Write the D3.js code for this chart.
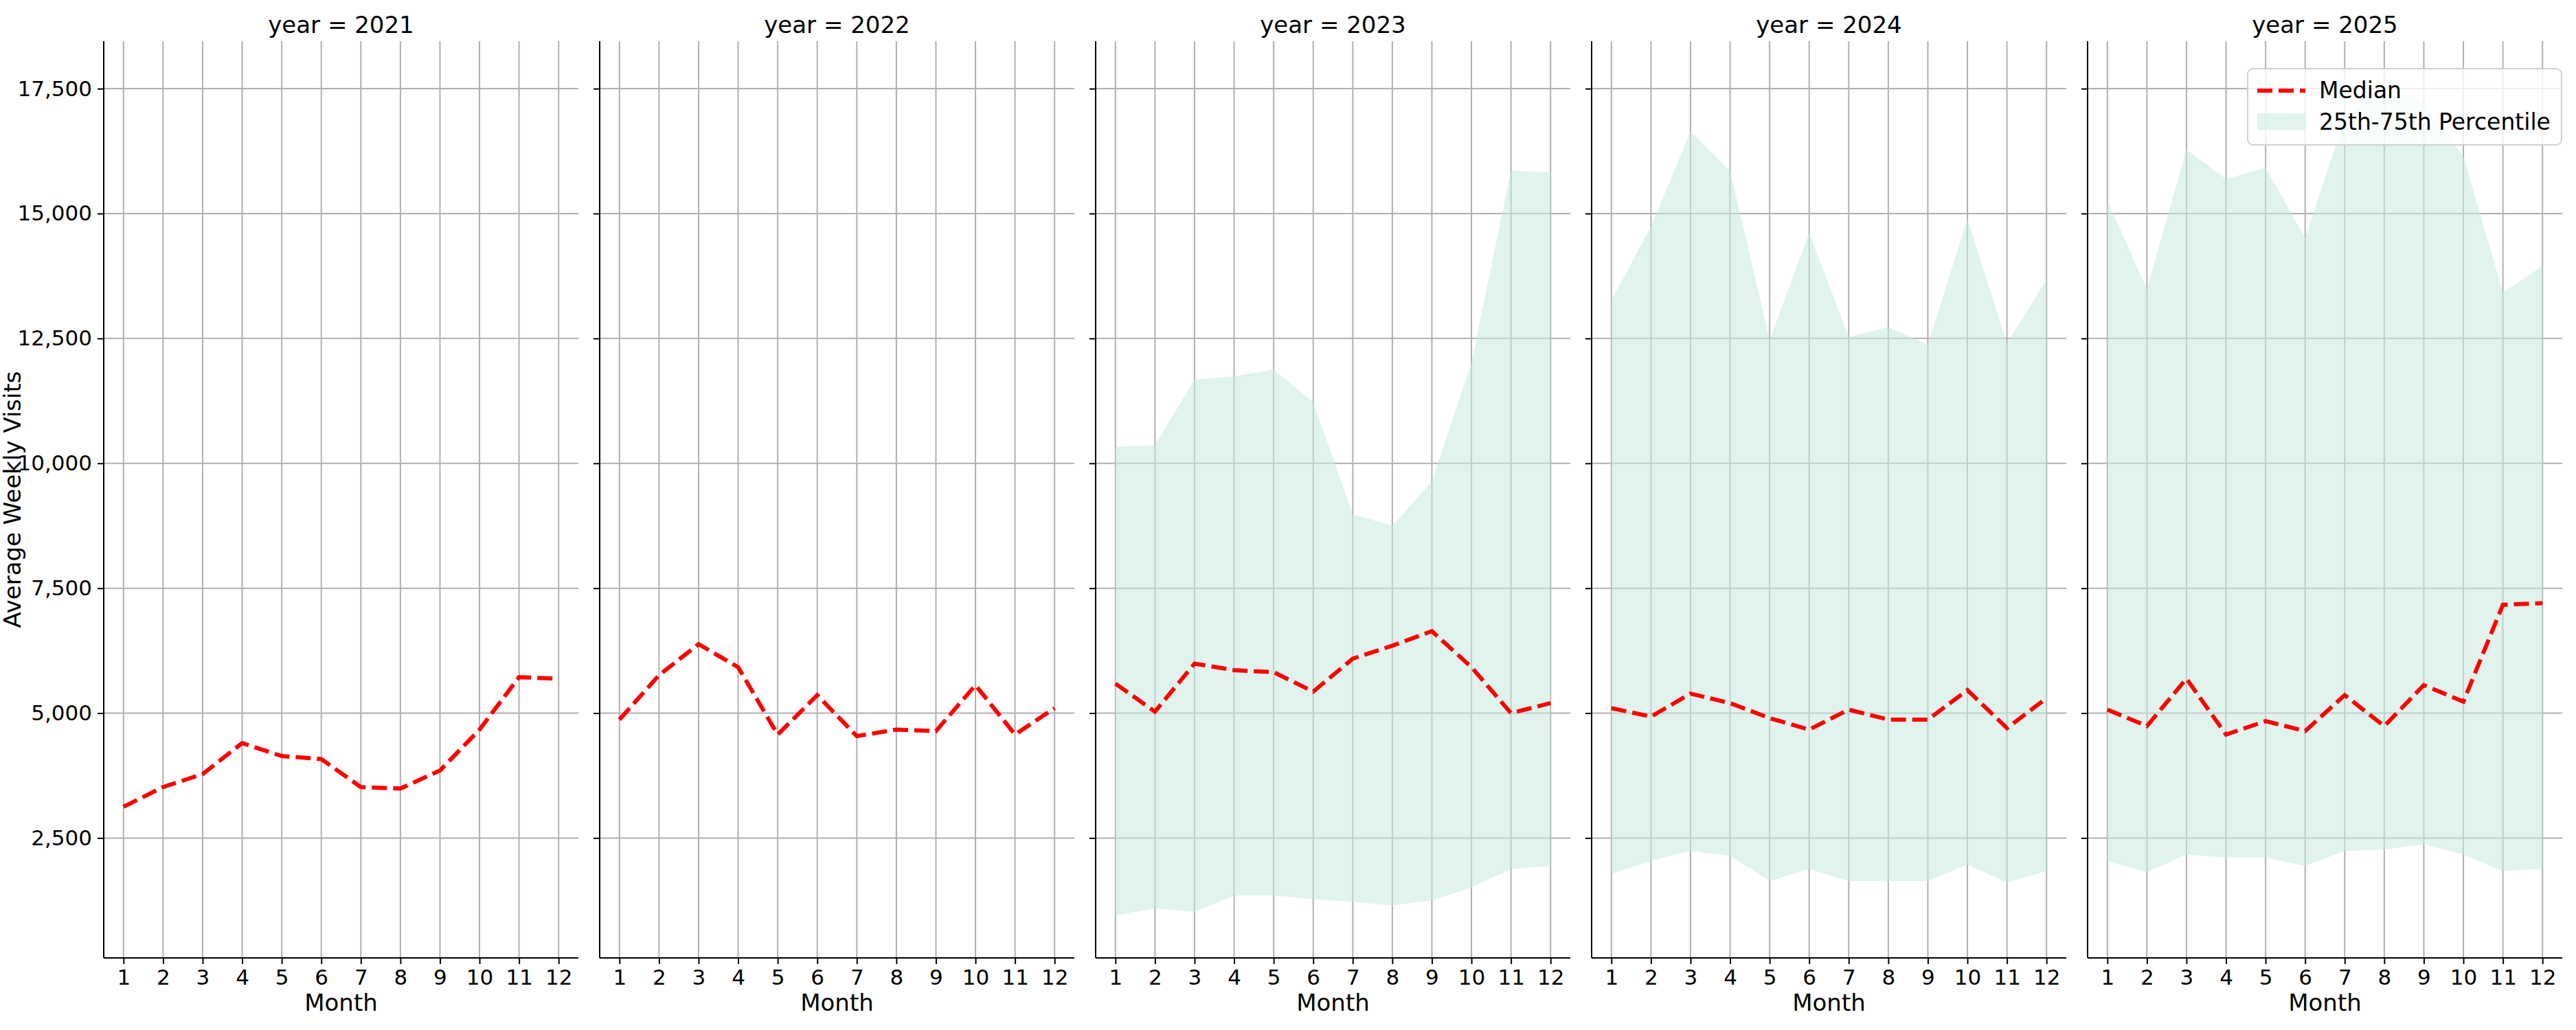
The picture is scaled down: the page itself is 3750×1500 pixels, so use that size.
<!DOCTYPE html>
<html><head><meta charset="utf-8">
<script src="https://cdn.jsdelivr.net/npm/d3@7"></script>
<style>body{margin:0;background:#fff;font-family:"DejaVu Sans",sans-serif;}</style>
</head><body><svg id="chart" width="3750" height="1500"></svg>
<script>
const years = [2021, 2022, 2023, 2024, 2025];
const months = [1,2,3,4,5,6,7,8,9,10,11,12];
const yTicks = [2500, 5000, 7500, 10000, 12500, 15000, 17500];

const median2021 = [3125,3520,3780,4400,4140,4080,3520,3490,3850,4670,5720,5690];
const median2022 = [4870,5760,6380,5920,4570,5360,4540,4670,4640,5560,4570,5100];
const median2023 = [5590,5030,5990,5860,5820,5430,6090,6350,6640,5920,5000,5200];
const median2024 = [5100,4930,5390,5200,4900,4670,5070,4870,4870,5460,4700,5300];
const median2025 = [5070,4740,5690,4570,4840,4640,5360,4740,5560,5230,7170,7200];

const upper2023 = [10330,10360,11680,11740,11880,11220,8980,8750,9640,12010,15860,15820];
const lower2023 = [950,1090,1020,1350,1350,1280,1220,1150,1250,1510,1880,1940];
const upper2024 = [13260,14740,16640,15860,12470,14610,12530,12730,12370,14900,12400,13680];
const lower2024 = [1780,2040,2240,2140,1640,1880,1640,1640,1640,1970,1610,1840];
const upper2025 = [15260,13490,16280,15690,15920,14510,16900,17600,17200,16150,13420,13950];
const lower2025 = [2040,1810,2170,2110,2110,1940,2240,2270,2370,2170,1840,1880];

const medians = [median2021, median2022, median2023, median2024, median2025];
const uppers = [null, null, upper2023, upper2024, upper2025];
const lowers = [null, null, lower2023, lower2024, lower2025];

const svg = d3.select("#chart");
const plotTop = 60, plotBottom = 1395, panelW = 691, gap = 31, left0 = 151;
const y = d3.scaleLinear().domain([100, 18450]).range([plotBottom, plotTop]);

years.forEach((yr, i) => {
    const x0 = left0 + i * (panelW + gap);
    const x = d3.scaleLinear().domain([0.5, 12.5]).range([x0, x0 + panelW]);
    const g = svg.append("g");

    // grid
    g.selectAll(".vg").data(months).enter().append("line")
        .attr("x1", d => x(d)).attr("x2", d => x(d)).attr("y1", plotTop).attr("y2", plotBottom)
        .attr("stroke", "#b0b0b0").attr("stroke-width", 2);
    g.selectAll(".hg").data(yTicks).enter().append("line")
        .attr("x1", x0).attr("x2", x0 + panelW).attr("y1", d => y(d)).attr("y2", d => y(d))
        .attr("stroke", "#b0b0b0").attr("stroke-width", 2);

    if (uppers[i]) {
        const area = d3.area().x((d, j) => x(months[j]))
            .y0((d, j) => y(lowers[i][j])).y1(d => y(d));
        g.append("path").datum(uppers[i]).attr("d", area)
            .attr("fill", "#c7e9df").attr("fill-opacity", 0.55);
    }

    const line = d3.line().x((d, j) => x(months[j])).y(d => y(d));
    g.append("path").datum(medians[i]).attr("d", line)
        .attr("fill", "none").attr("stroke", "red").attr("stroke-width", 6)
        .attr("stroke-dasharray", "22,9");

    const xa = g.append("g").attr("transform", `translate(0,${plotBottom})`)
        .call(d3.axisBottom(x).tickValues(months).tickSize(9).tickPadding(8));
    xa.select(".domain").attr("stroke-width", 2).attr("d", `M${x0},0H${x0 + panelW}`);
    xa.selectAll(".tick line").attr("stroke-width", 2);
    xa.selectAll("text").attr("font-size", 31).attr("font-family", "DejaVu Sans");

    const ya = g.append("g").attr("transform", `translate(${x0},0)`)
        .call(d3.axisLeft(y).tickValues(yTicks).tickSize(9).tickPadding(8));
    ya.select(".domain").attr("stroke-width", 2).attr("d", `M0,${plotTop}V${plotBottom}`);
    ya.selectAll(".tick line").attr("stroke-width", 2);
    ya.selectAll("text").attr("font-size", 31).attr("font-family", "DejaVu Sans")
        .style("display", i === 0 ? null : "none");

    g.append("text").attr("x", x0 + panelW / 2).attr("y", 48).attr("text-anchor", "middle")
        .attr("font-size", 34).text(`year = ${yr}`);
    g.append("text").attr("x", x0 + panelW / 2).attr("y", 1472).attr("text-anchor", "middle")
        .attr("font-size", 34).text("Month");
});

svg.append("text").attr("transform", `translate(30,${(plotTop + plotBottom) / 2}) rotate(-90)`)
    .attr("text-anchor", "middle").attr("font-size", 34).text("Average Weekly Visits");

// legend
const lg = svg.append("g").attr("transform", "translate(3272,100)");
lg.append("rect").attr("width", 457).attr("height", 111).attr("rx", 8)
    .attr("fill", "white").attr("fill-opacity", 0.8).attr("stroke", "#d0d0d0").attr("stroke-width", 2);
lg.append("line").attr("x1", 14).attr("x2", 84).attr("y1", 32).attr("y2", 32)
    .attr("stroke", "red").attr("stroke-width", 6).attr("stroke-dasharray", "22,9");
lg.append("text").attr("x", 104).attr("y", 43).attr("font-size", 33).text("Median");
lg.append("rect").attr("x", 14).attr("y", 65).attr("width", 70).attr("height", 24)
    .attr("fill", "#c7e9df").attr("fill-opacity", 0.55);
lg.append("text").attr("x", 104).attr("y", 89).attr("font-size", 33).text("25th-75th Percentile");
</script></body></html>
